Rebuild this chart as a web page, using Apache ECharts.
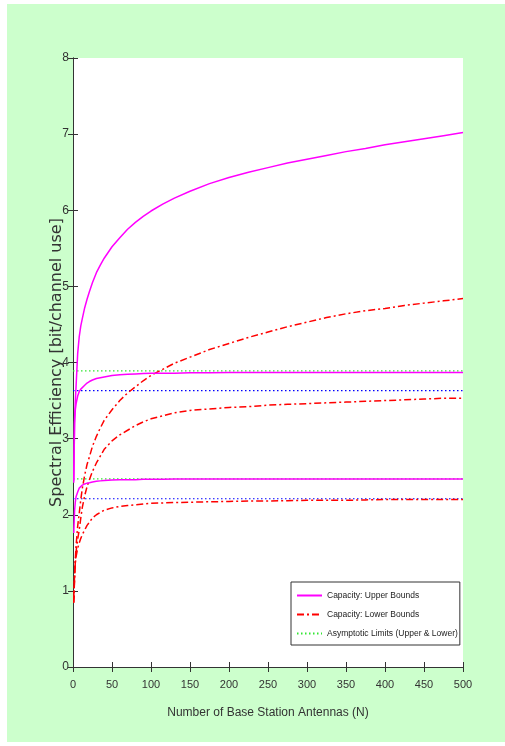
<!DOCTYPE html>
<html>
<head>
<meta charset="utf-8">
<script src="https://cdn.jsdelivr.net/npm/echarts@6/dist/echarts.min.js"></script>
<style>
  html, body { margin: 0; padding: 0; background: #ffffff; }
  #chart { position: absolute; left: 7px; top: 4px; width: 498px; height: 738px; }
</style>
</head>
<body>
<div id="chart"></div>
<script>
// number of base station antennas
var antennas = [1, 2, 3, 4, 6, 8, 10, 12, 15, 18, 21, 25, 30, 35, 40, 50, 60, 70, 80, 90, 100, 115, 130, 150, 175, 200, 225, 250, 275, 300, 325, 350, 375, 400, 425, 450, 475, 500];

// capacity upper bounds (three cases)
var upperHigh = [2.45, 3.25, 3.5, 3.7, 4.12, 4.34, 4.48, 4.58, 4.72, 4.83, 4.93, 5.05, 5.18, 5.28, 5.37, 5.52, 5.64, 5.75, 5.84, 5.92, 5.99, 6.08, 6.16, 6.25, 6.35, 6.43, 6.5, 6.56, 6.62, 6.67, 6.72, 6.77, 6.81, 6.86, 6.9, 6.94, 6.98, 7.02];
var upperMid  = [2.42, 3.2, 3.38, 3.46, 3.56, 3.62, 3.65, 3.67, 3.7, 3.73, 3.75, 3.77, 3.79, 3.8, 3.81, 3.83, 3.84, 3.845, 3.85, 3.855, 3.86, 3.86, 3.86, 3.865, 3.865, 3.87, 3.87, 3.87, 3.87, 3.87, 3.87, 3.87, 3.87, 3.87, 3.87, 3.87, 3.87, 3.87];
var upperLow  = [1.76, 2.05, 2.17, 2.24, 2.3, 2.35, 2.37, 2.39, 2.405, 2.415, 2.42, 2.43, 2.44, 2.445, 2.45, 2.455, 2.46, 2.46, 2.46, 2.465, 2.465, 2.465, 2.47, 2.47, 2.47, 2.47, 2.47, 2.47, 2.47, 2.47, 2.47, 2.47, 2.47, 2.47, 2.47, 2.47, 2.47, 2.47];

// capacity lower bounds (three cases)
var lowerHigh = [0.84, 1.2, 1.42, 1.6, 1.85, 2.02, 2.2, 2.35, 2.52, 2.66, 2.76, 2.9, 3.03, 3.14, 3.24, 3.38, 3.5, 3.6, 3.68, 3.76, 3.83, 3.91, 3.99, 4.07, 4.17, 4.25, 4.33, 4.4, 4.47, 4.53, 4.59, 4.64, 4.68, 4.71, 4.75, 4.78, 4.81, 4.84];
var lowerMid  = [0.9, 1.2, 1.38, 1.52, 1.68, 1.8, 1.96, 2.1, 2.25, 2.37, 2.46, 2.57, 2.68, 2.77, 2.86, 2.97, 3.05, 3.11, 3.17, 3.22, 3.26, 3.3, 3.34, 3.37, 3.39, 3.41, 3.42, 3.44, 3.45, 3.46, 3.47, 3.48, 3.49, 3.5, 3.51, 3.52, 3.53, 3.53];
var lowerLow  = [0.85, 1.15, 1.37, 1.45, 1.56, 1.63, 1.69, 1.74, 1.8, 1.86, 1.9, 1.96, 2.0, 2.03, 2.06, 2.09, 2.11, 2.12, 2.13, 2.14, 2.15, 2.155, 2.16, 2.165, 2.17, 2.175, 2.18, 2.18, 2.185, 2.19, 2.19, 2.19, 2.195, 2.2, 2.2, 2.2, 2.2, 2.2];

// asymptotic limits
var limitX = [0, 500];
var limitUpper = [3.89, 2.47];
var limitLower = [3.63, 2.21];

var xTicks = [0, 50, 100, 150, 200, 250, 300, 350, 400, 450, 500];
var yTicks = [0, 1, 2, 3, 4, 5, 6, 7, 8];

var NAME_UP = 'Capacity: Upper Bounds';
var NAME_LO = 'Capacity: Lower Bounds';
var NAME_AS = 'Asymptotic Limits (Upper & Lower)';
var narrow = '"Liberation Sans Narrow", "Arial Narrow", "Liberation Sans", sans-serif';

function pairs(ys) {
    return antennas.map(function (n, i) { return [n, ys[i]]; });
}
function hline(v) {
    return limitX.map(function (x) { return [x, v]; });
}

var myChart = echarts.init(document.getElementById('chart'));

var solid = { color: '#ff00ff', width: 1.5, type: 'solid' };
var dashDot = { color: '#ff0000', width: 1.5, type: [7, 3, 2, 3] };
var greenDot = { color: '#33e633', width: 1.2, type: [1.5, 2.5] };
var blueDot = { color: '#0000ff', width: 1.2, type: [1.5, 2.5] };

var series = [];
[upperHigh, upperMid, upperLow].forEach(function (ys) {
    series.push({ name: NAME_UP, type: 'line', data: pairs(ys), symbol: 'none',
        lineStyle: solid, itemStyle: { color: '#ff00ff' }, z: 4 });
});
[lowerHigh, lowerMid, lowerLow].forEach(function (ys) {
    series.push({ name: NAME_LO, type: 'line', data: pairs(ys), symbol: 'none',
        lineStyle: dashDot, itemStyle: { color: '#ff0000' }, z: 3 });
});
limitUpper.forEach(function (v) {
    series.push({ name: NAME_AS, type: 'line', data: hline(v), symbol: 'none', lineStyle: greenDot, itemStyle: { color: '#33e633' }, z: 2 });
});
limitLower.forEach(function (v) {
    series.push({ name: 'lowerLimit', type: 'line', data: hline(v), symbol: 'none', lineStyle: blueDot, itemStyle: { color: '#0000ff' }, z: 2 });
});

var axisLineStyle = { lineStyle: { color: '#333333', width: 1 } };
var tickStyle = { show: true, inside: true, length: 5, lineStyle: { color: '#333333' } };

var option = {
    backgroundColor: '#ccffcc',
    animation: false,
    grid: { left: 66, top: 54, width: 390, height: 609, show: true, backgroundColor: '#ffffff', borderWidth: 0 },
    legend: {
        data: [NAME_UP, NAME_LO, NAME_AS],
        orient: 'vertical',
        left: 284,
        top: 578,
        itemWidth: 25,
        itemHeight: 10,
        itemGap: 10,
        padding: [9, 2, 7, 5],
        backgroundColor: '#ffffff',
        borderColor: '#333333',
        borderWidth: 1,
        borderRadius: 0,
        itemStyle: { opacity: 0 },
        textStyle: { fontFamily: narrow, fontSize: 8.5, color: '#222222' }
    },
    xAxis: [{
        type: 'value',
        min: 0, max: 500, interval: 50,
        name: 'Number of Base Station Antennas (N)',
        nameLocation: 'middle',
        nameGap: 40,
        nameTextStyle: { fontFamily: narrow, fontSize: 12, color: '#333333' },
        axisLine: axisLineStyle,
        axisTick: tickStyle,
        axisLabel: { fontFamily: narrow, fontSize: 11, color: '#333333', margin: 12,
            formatter: function (v) { return xTicks.indexOf(v) >= 0 ? String(v) : ''; } },
        splitLine: { show: false }
    }, {
        type: 'value', position: 'top',
        min: 0, max: 500, interval: 50,
        axisLine: axisLineStyle,
        axisTick: tickStyle,
        axisLabel: { show: false },
        splitLine: { show: false }
    }],
    yAxis: [{
        type: 'value',
        min: 0, max: 8, interval: 1,
        name: 'Spectral Efficiency [bit/channel use]',
        nameLocation: 'middle',
        nameGap: 8,
        nameMoveOverlap: false,
        nameTextStyle: { fontFamily: '"DejaVu Sans", sans-serif', fontSize: 16, color: '#333333' },
        axisLine: { show: true, lineStyle: { color: '#333333', width: 1 } },
        axisTick: tickStyle,
        axisLabel: { fontFamily: narrow, fontSize: 12, color: '#333333', margin: 4,
            formatter: function (v) { return yTicks.indexOf(v) >= 0 ? String(v) : ''; } },
        splitLine: { show: false }
    }, {
        type: 'value', position: 'right',
        min: 0, max: 8, interval: 1,
        axisLine: { show: true, lineStyle: { color: '#333333', width: 1 } },
        axisTick: tickStyle,
        axisLabel: { show: false },
        splitLine: { show: false }
    }],
    series: series
};
myChart.setOption(option);
</script>
</body>
</html>
